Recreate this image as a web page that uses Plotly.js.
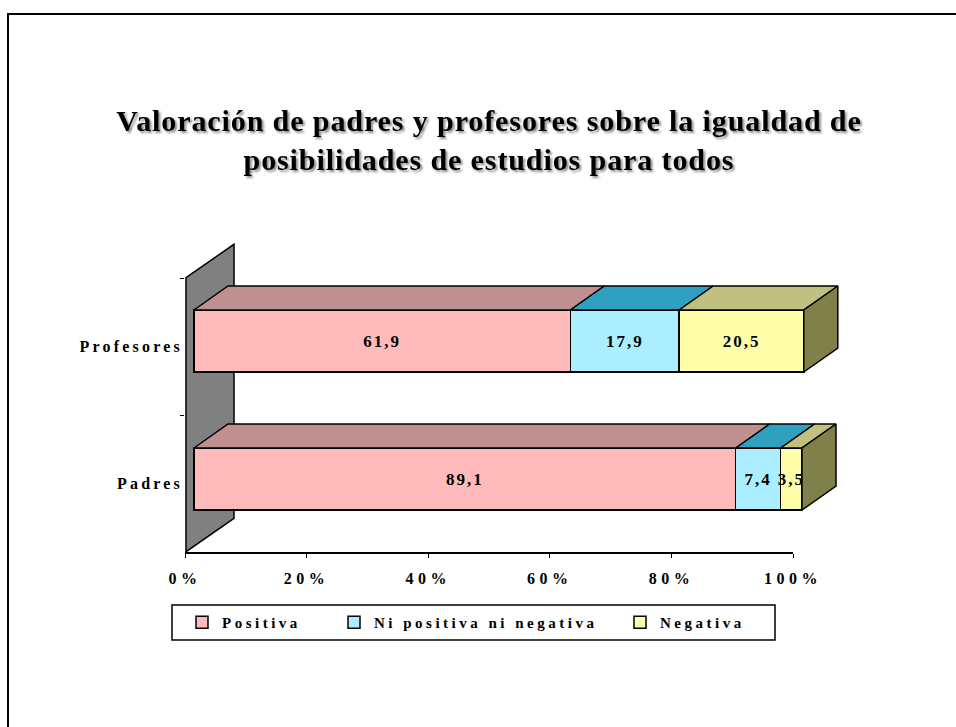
<!DOCTYPE html>
<html>
<head>
<meta charset="utf-8">
<script src="https://cdn.plot.ly/plotly-3.0.1.min.js"></script>
<style>
  html, body { margin: 0; padding: 0; background: #fff; }
  #chart { width: 956px; height: 727px; }
  .x2tick text { letter-spacing: 4.5px; }
  .y2tick text { letter-spacing: 3.2px; }
  text.legendtext { letter-spacing: 3.5px; }
  text.bartext { letter-spacing: 2px; }
  .gtitle { letter-spacing: 0.9px; filter: drop-shadow(2px 2px 1px rgba(0,0,0,0.45)); }
</style>
</head>
<body>
<div id="chart"></div>
<script>
// ---- data ----
const categories = ['Padres', 'Profesores'];
const seriesNames = ['Positiva', 'Ni positiva ni negativa', 'Negativa'];
const positiva = [89.1, 61.9];
const niPositivaNiNegativa = [7.4, 17.9];
const negativa = [3.5, 20.5];
const xTickValues = [0, 20, 40, 60, 80, 100];
const xTickLabels = ['0%', '20%', '40%', '60%', '80%', '100%'];

// ---- style ----
const frontColors = ['#FFBBBB', '#AAEEFF', '#FFFFAA'];
const topColors = ['#C09090', '#30A0C0', '#C0C080'];
const sideColor = '#80804A';
const W = 956, H = 727;
const FONT = 'Liberation Serif, Times New Roman, serif';

// pixel helpers (layout only)
const PX_ZERO = 194, PX_PER_UNIT = 6.08;        // main bar x-scale
const PY_PADRES = 479, PY_PER_CAT = 138;         // main bar y-scale
const ux = p => (p - PX_ZERO) / PX_PER_UNIT;
const uy = p => (PY_PADRES - p) / PY_PER_CAT;
const fx = p => p / W;
const fy = p => 1 - p / H;

const BAR_W = 62 / PY_PER_CAT;
const DX = 34 / PX_PER_UNIT;
const DY = 24 / PY_PER_CAT;

const series = [positiva, niPositivaNiNegativa, negativa];
const legendIds = ['legend', 'legend2', 'legend3'];
const legendX = [182, 334, 620];
const fmt = v => v.toFixed(1).replace('.', ',');
const ypos = categories.map(c => categories.indexOf(c));

const traces = [];
// front faces (bars)
series.forEach((vals, s) => {
  traces.push({
    type: 'bar', orientation: 'h',
    name: seriesNames[s],
    legend: legendIds[s],
    x: vals, y: ypos, width: BAR_W,
    xaxis: 'x', yaxis: 'y',
    marker: { color: frontColors[s], line: { color: '#000', width: 1.5 } },
    text: vals.map(fmt),
    textposition: 'inside', insidetextanchor: 'middle',
    constraintext: 'none', textangle: 0,
    textfont: { family: FONT, size: 17, weight: 'bold', color: '#000' },
    hoverinfo: 'skip'
  });
});

// top faces and right side faces
categories.forEach((c, i) => {
  const y = ypos[i];
  const yt = y + BAR_W / 2, yb = y - BAR_W / 2;
  let base = 0;
  series.forEach((vals, s) => {
    const x0 = base, x1 = base + vals[i];
    traces.push({
      type: 'scatter', mode: 'lines', fill: 'toself',
      x: [x0, x1, x1 + DX, x0 + DX, x0],
      y: [yt, yt, yt + DY, yt + DY, yt],
      xaxis: 'x', yaxis: 'y',
      fillcolor: topColors[s], line: { color: '#000', width: 1.5 },
      showlegend: false, hoverinfo: 'skip'
    });
    base = x1;
  });
  traces.push({
    type: 'scatter', mode: 'lines', fill: 'toself',
    x: [base, base + DX, base + DX, base, base],
    y: [yb, yb + DY, yt + DY, yt, yb],
    xaxis: 'x', yaxis: 'y',
    fillcolor: sideColor, line: { color: '#000', width: 1.5 },
    showlegend: false, hoverinfo: 'skip'
  });
});

// carrier trace for the category axis
traces.push({
  type: 'scatter', mode: 'markers', x: [0, 0], y: categories,
  xaxis: 'x2', yaxis: 'y2', marker: { opacity: 0 },
  showlegend: false, hoverinfo: 'skip'
});

// the grey back wall
const wallPath = 'M ' + ux(186) + ',' + uy(277.7) +
  ' L ' + ux(234) + ',' + uy(244.3) +
  ' L ' + ux(234) + ',' + uy(518.3) +
  ' L ' + ux(186) + ',' + uy(551.7) + ' Z';

const makeLegend = i => ({
  orientation: 'h', x: fx(legendX[i]), xanchor: 'left',
  y: fy(606), yanchor: 'top',
  entrywidth: 260, entrywidthmode: 'pixels',
  borderwidth: 0, bgcolor: 'rgba(0,0,0,0)',
  font: { family: FONT, size: 15, weight: 'bold', color: '#000' }
});

const layout = {
  width: W, height: H,
  margin: { l: 0, r: 0, t: 0, b: 0 },
  paper_bgcolor: '#fff', plot_bgcolor: 'rgba(0,0,0,0)',
  barmode: 'stack',
  showlegend: true,
  hovermode: false,
  title: {
    text: 'Valoración de padres y profesores sobre la igualdad de<br>posibilidades de estudios para todos',
    font: { family: FONT, size: 30, weight: 'bold', color: '#000' },
    x: fx(489), xanchor: 'center', xref: 'paper',
    y: fy(131), yanchor: 'top', yref: 'container'
  },
  xaxis: {
    domain: [fx(175), fx(855)], range: [ux(175), ux(855)],
    visible: false, fixedrange: true
  },
  yaxis: {
    domain: [fy(565), fy(235)], range: [uy(565), uy(235)],
    visible: false, fixedrange: true
  },
  xaxis2: {
    domain: [fx(185), fx(793)], range: [0, 100], anchor: 'y2',
    tickvals: xTickValues, ticktext: xTickLabels,
    ticks: 'outside', ticklen: 4, tickcolor: '#000', tickwidth: 1,
    showline: true, linecolor: '#000', linewidth: 1.5,
    showgrid: false, zeroline: false, ticklabelstandoff: 7,
    tickfont: { family: FONT, size: 16, weight: 'bold', color: '#000' },
    fixedrange: true
  },
  yaxis2: {
    domain: [fy(552), fy(278)], anchor: 'x2',
    type: 'category', categoryorder: 'array', categoryarray: categories,
    range: [-0.5, 1.5], tickson: 'boundaries',
    ticks: 'outside', ticklen: 4, tickcolor: '#000', tickwidth: 1,
    showline: false, showgrid: false, zeroline: false,
    tickfont: { family: FONT, size: 16, weight: 'bold', color: '#000' },
    ticklabelstandoff: 1,
    fixedrange: true
  },
  legend: makeLegend(0),
  legend2: makeLegend(1),
  legend3: makeLegend(2),
  shapes: [
    {
      type: 'path', xref: 'x', yref: 'y', path: wallPath,
      fillcolor: '#808080', line: { color: '#000', width: 1.5 }, layer: 'below'
    },
    {
      type: 'rect', xref: 'paper', yref: 'paper',
      x0: fx(8), x1: 1.2, y0: -0.2, y1: fy(14),
      line: { color: '#000', width: 2 }, fillcolor: 'rgba(0,0,0,0)', layer: 'below'
    },
    {
      type: 'rect', xref: 'paper', yref: 'paper',
      x0: fx(172), x1: fx(775), y0: fy(640), y1: fy(605),
      line: { color: '#000', width: 1.5 }, fillcolor: 'rgba(0,0,0,0)', layer: 'below'
    }
  ]
};

Plotly.newPlot('chart', traces, layout, { displayModeBar: false, staticPlot: true }).then(gd => {
  gd.querySelectorAll('.infolayer text').forEach(t => {
    if (!t.closest('.g-gtitle')) t.style.letterSpacing = '3.5px';
  });
});
</script>
</body>
</html>
